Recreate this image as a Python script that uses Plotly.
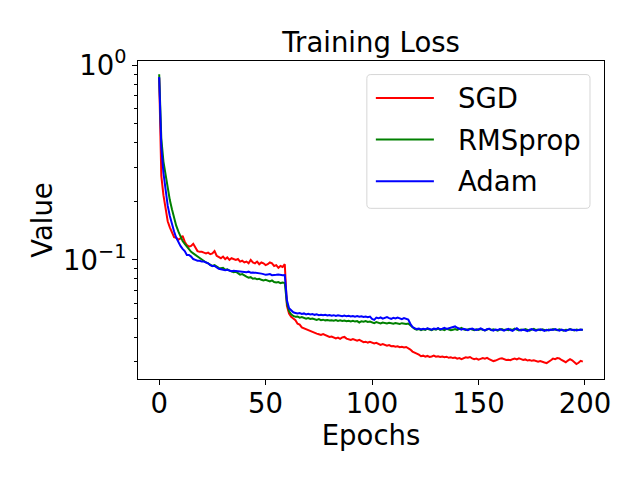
import plotly.graph_objects as go

epochs = list(range(200))

sgd = [
    0.86, 0.27, 0.215, 0.18, 0.158, 0.147, 0.137, 0.131, 0.130, 0.127, 0.129, 0.133, 0.124, 0.119, 0.117, 0.118, 0.121, 0.115, 0.111, 0.110,
    0.110, 0.109, 0.108, 0.109, 0.107, 0.108, 0.111, 0.105, 0.103, 0.102, 0.104, 0.101, 0.103, 0.100, 0.102, 0.101, 0.100, 0.101, 0.098, 0.099,
    0.097, 0.098, 0.096, 0.100, 0.097, 0.096, 0.098, 0.095, 0.097, 0.096, 0.094, 0.095, 0.097, 0.096, 0.093, 0.094, 0.091, 0.093, 0.092, 0.095,
    0.058, 0.053, 0.051, 0.050, 0.049, 0.047, 0.0465, 0.045, 0.0445, 0.044, 0.0436, 0.0428, 0.0425, 0.0420, 0.0418, 0.0415, 0.0412, 0.0416, 0.0410, 0.0405,
    0.0402, 0.0404, 0.0398, 0.0395, 0.0399, 0.0393, 0.0400, 0.0402, 0.0394, 0.0390, 0.0388, 0.0392, 0.0386, 0.0384, 0.0388, 0.0381, 0.0378, 0.0380, 0.0376, 0.0379,
    0.0374, 0.0372, 0.0375, 0.0370, 0.0366, 0.0369, 0.0364, 0.0362, 0.0365, 0.0360, 0.0361, 0.0358, 0.0360, 0.0356, 0.0358, 0.0355, 0.0357, 0.0353, 0.0346, 0.0338,
    0.0335, 0.0330, 0.0326, 0.0320, 0.0322, 0.0318, 0.0321, 0.0317, 0.0319, 0.0322, 0.0318, 0.0320, 0.0317, 0.0319, 0.0316, 0.0318, 0.0314, 0.0316, 0.0313, 0.0315,
    0.0311, 0.0313, 0.0309, 0.0312, 0.0316, 0.0314, 0.0317, 0.0312, 0.0309, 0.0311, 0.0307, 0.0310, 0.0313, 0.0311, 0.0314, 0.0309, 0.0305, 0.0302, 0.0304, 0.0308,
    0.0311, 0.0312, 0.0308, 0.0306, 0.0307, 0.0305, 0.0309, 0.0311, 0.0308, 0.0312, 0.0309, 0.0306, 0.0308, 0.0304, 0.0306, 0.0303, 0.0305, 0.0302, 0.0300, 0.0302,
    0.0298, 0.0297, 0.0295, 0.0299, 0.0305, 0.0311, 0.0309, 0.0313, 0.0312, 0.0306, 0.0302, 0.0298, 0.0304, 0.0309, 0.0305, 0.0299, 0.0292, 0.0296, 0.0303, 0.0300,
]

rmsprop = [
    0.90, 0.42, 0.32, 0.27, 0.23, 0.203, 0.182, 0.163, 0.150, 0.140, 0.131, 0.125, 0.121, 0.117, 0.113, 0.110, 0.108, 0.106, 0.104, 0.102,
    0.100, 0.099, 0.097, 0.096, 0.094, 0.093, 0.094, 0.092, 0.091, 0.0905, 0.091, 0.089, 0.0895, 0.088, 0.087, 0.0865, 0.087, 0.085, 0.084, 0.0845,
    0.083, 0.082, 0.081, 0.0815, 0.080, 0.0805, 0.0795, 0.080, 0.079, 0.0785, 0.079, 0.078, 0.0775, 0.0785, 0.077, 0.0765, 0.077, 0.076, 0.0765, 0.0760,
    0.060, 0.0545, 0.0525, 0.0515, 0.0510, 0.0512, 0.0505, 0.0508, 0.0502, 0.0499, 0.0503, 0.0497, 0.0500, 0.0495, 0.0492, 0.0496, 0.0490, 0.0493, 0.0489, 0.0491,
    0.0488, 0.0490, 0.0487, 0.0491, 0.0486, 0.0489, 0.0485, 0.0488, 0.0484, 0.0487, 0.0483, 0.0486, 0.0482, 0.0485, 0.0477, 0.0484, 0.0481, 0.0485, 0.0480, 0.0482,
    0.0476, 0.0473, 0.0479, 0.0475, 0.0472, 0.0477, 0.0474, 0.0471, 0.0475, 0.0472, 0.0470, 0.0474, 0.0471, 0.0469, 0.0473, 0.0470, 0.0468, 0.0471, 0.0460, 0.0450,
    0.0442, 0.0438, 0.0441, 0.0436, 0.0440, 0.0437, 0.0443, 0.0439, 0.0435, 0.0441, 0.0438, 0.0444, 0.0437, 0.0440, 0.0436, 0.0442, 0.0439, 0.0435, 0.0438, 0.0441,
    0.0437, 0.0443, 0.0447, 0.0440, 0.0436, 0.0439, 0.0442, 0.0438, 0.0435, 0.0440, 0.0437, 0.0441, 0.0438, 0.0434, 0.0439, 0.0442, 0.0436, 0.0440, 0.0437, 0.0433,
    0.0438, 0.0441, 0.0436, 0.0439, 0.0435, 0.0440, 0.0437, 0.0443, 0.0438, 0.0434, 0.0439, 0.0436, 0.0441, 0.0437, 0.0433, 0.0438, 0.0442, 0.0436, 0.0439, 0.0435,
    0.0440, 0.0437, 0.0434, 0.0439, 0.0436, 0.0441, 0.0438, 0.0435, 0.0440, 0.0437, 0.0433, 0.0438, 0.0436, 0.0441, 0.0437, 0.0434, 0.0439, 0.0436, 0.0438, 0.0437,
]

adam = [
    0.87, 0.38, 0.28, 0.23, 0.19, 0.168, 0.152, 0.140, 0.130, 0.123, 0.118, 0.114, 0.111, 0.106, 0.106, 0.104, 0.101, 0.100, 0.099, 0.099,
    0.098, 0.098, 0.097, 0.096, 0.094, 0.093, 0.093, 0.091, 0.090, 0.0895, 0.089, 0.0885, 0.089, 0.088, 0.0875, 0.088, 0.0878, 0.087, 0.0875, 0.0868,
    0.0868, 0.0865, 0.087, 0.086, 0.0862, 0.086, 0.0855, 0.0858, 0.085, 0.0845, 0.0838, 0.0842, 0.0845, 0.0835, 0.084, 0.0838, 0.0842, 0.0836, 0.0834, 0.0836,
    0.062, 0.0565, 0.0548, 0.0538, 0.0534, 0.0530, 0.0533, 0.0528, 0.0531, 0.0525, 0.0529, 0.0524, 0.0527, 0.0522, 0.0525, 0.0520, 0.0523, 0.0519, 0.0522, 0.0518,
    0.0521, 0.0517, 0.0520, 0.0515, 0.0519, 0.0516, 0.0514, 0.0518, 0.0513, 0.0516, 0.0512, 0.0515, 0.0511, 0.0514, 0.0510, 0.0513, 0.0509, 0.0512, 0.0508, 0.0511,
    0.0497, 0.0492, 0.0505, 0.0501, 0.0506, 0.0499, 0.0503, 0.0508, 0.0502, 0.0498, 0.0504, 0.0500, 0.0505, 0.0499, 0.0496, 0.0502, 0.0498, 0.0494, 0.0470, 0.0452,
    0.0446, 0.0441, 0.0444, 0.0439, 0.0443, 0.0440, 0.0445, 0.0442, 0.0438, 0.0444, 0.0441, 0.0446, 0.0440, 0.0443, 0.0447, 0.0442, 0.0445, 0.0449, 0.0452, 0.0455,
    0.0448, 0.0441, 0.0438, 0.0443, 0.0439, 0.0436, 0.0441, 0.0444, 0.0439, 0.0436, 0.0440, 0.0445, 0.0439, 0.0434, 0.0440, 0.0443, 0.0437, 0.0433, 0.0439, 0.0436,
    0.0441, 0.0437, 0.0433, 0.0438, 0.0442, 0.0436, 0.0432, 0.0439, 0.0446, 0.0437, 0.0434, 0.0439, 0.0435, 0.0431, 0.0438, 0.0441, 0.0436, 0.0433, 0.0437, 0.0440,
    0.0436, 0.0432, 0.0437, 0.0434, 0.0439, 0.0436, 0.0441, 0.0437, 0.0433, 0.0438, 0.0435, 0.0431, 0.0437, 0.0440, 0.0436, 0.0438, 0.0434, 0.0437, 0.0439, 0.0436,
]

x_ticks = [0, 50, 100, 150, 200]
y_ticks = [1, 0.1]
y_tick_text = ['10<sup>0</sup>', '10<sup>\u22121</sup>']
y_minor = [0.03, 0.04, 0.05, 0.06, 0.07, 0.08, 0.09, 0.2, 0.3, 0.4, 0.5, 0.6, 0.7, 0.8, 0.9]

FONT = 'DejaVu Sans'
FS = 27.5

# plot area in pixels (matplotlib default axes box at 640x480)
L, R, T, B = 138.3, 604.0, 60.7, 379.3
W, H = R - L, B - T


def px(x):
    return (x - L) / W


def py(y):
    return (B - y) / H


series = [('SGD', sgd, 'red'), ('RMSprop', rmsprop, 'green'), ('Adam', adam, 'blue')]

fig = go.Figure()
for name, vals, color in series:
    fig.add_trace(go.Scatter(x=epochs, y=vals, mode='lines', name=name,
                             line=dict(color=color, width=2), showlegend=False))

# legend drawn by hand to match matplotlib's box
x0, x1, y0, y1, r = 367.0, 590.0, 74.3, 208.3, 4.0
rx, ry = r / W, r / H
path = (f"M {px(x0)+rx},{py(y0)} L {px(x1)-rx},{py(y0)} Q {px(x1)},{py(y0)} {px(x1)},{py(y0)-ry} "
        f"L {px(x1)},{py(y1)+ry} Q {px(x1)},{py(y1)} {px(x1)-rx},{py(y1)} "
        f"L {px(x0)+rx},{py(y1)} Q {px(x0)},{py(y1)} {px(x0)},{py(y1)+ry} "
        f"L {px(x0)},{py(y0)-ry} Q {px(x0)},{py(y0)} {px(x0)+rx},{py(y0)} Z")
fig.add_shape(type='path', path=path, xref='paper', yref='paper', layer='above',
              fillcolor='rgba(255,255,255,0.8)', line=dict(color='#d6d6d6', width=1))
for i, (name, vals, color) in enumerate(series):
    row_y = 97.7 + i * 41.7
    fig.add_shape(type='line', xref='paper', yref='paper', layer='above',
                  x0=px(376), x1=px(434), y0=py(row_y), y1=py(row_y),
                  line=dict(color=color, width=2))
    fig.add_annotation(text=name, xref='paper', yref='paper', x=px(456), y=py(row_y),
                       xanchor='left', yanchor='middle', showarrow=False,
                       font=dict(size=FS, color='black', family=FONT))

axis_common = dict(
    showline=True, linecolor='black', linewidth=1.1, mirror=True,
    ticks='outside', ticklen=5, tickwidth=1.1, tickcolor='black',
    showgrid=False, zeroline=False, automargin=False,
    tickfont=dict(size=FS, color='black', family=FONT),
)

fig.update_layout(
    width=640, height=480,
    margin=dict(l=L, r=640 - R, t=T, b=480 - B),
    plot_bgcolor='white', paper_bgcolor='white',
    font=dict(family=FONT, color='black', size=FS),
    title=dict(text='Training Loss', x=(L + R) / 2 / 640, xanchor='center',
               y=1 - 42 / 480, yanchor='middle', yref='container',
               font=dict(size=FS, color='black', family=FONT)),
    xaxis=dict(axis_common, range=[-9.95, 208.95], tickvals=x_ticks,
               ticklabelstandoff=-5,
               title=dict(text='Epochs', standoff=0, font=dict(size=FS))),
    yaxis=dict(axis_common, type='log', range=[-1.612, 0.022],
               tickvals=y_ticks, ticktext=y_tick_text,
               minor=dict(tickvals=y_minor, ticks='outside', ticklen=3, tickwidth=0.8, tickcolor='black'),
               title=dict(text='Value', standoff=2, font=dict(size=FS))),
    showlegend=False,
)

fig.write_html("out.html", config={'displayModeBar': False},
               post_script="document.body.style.margin='0';")
